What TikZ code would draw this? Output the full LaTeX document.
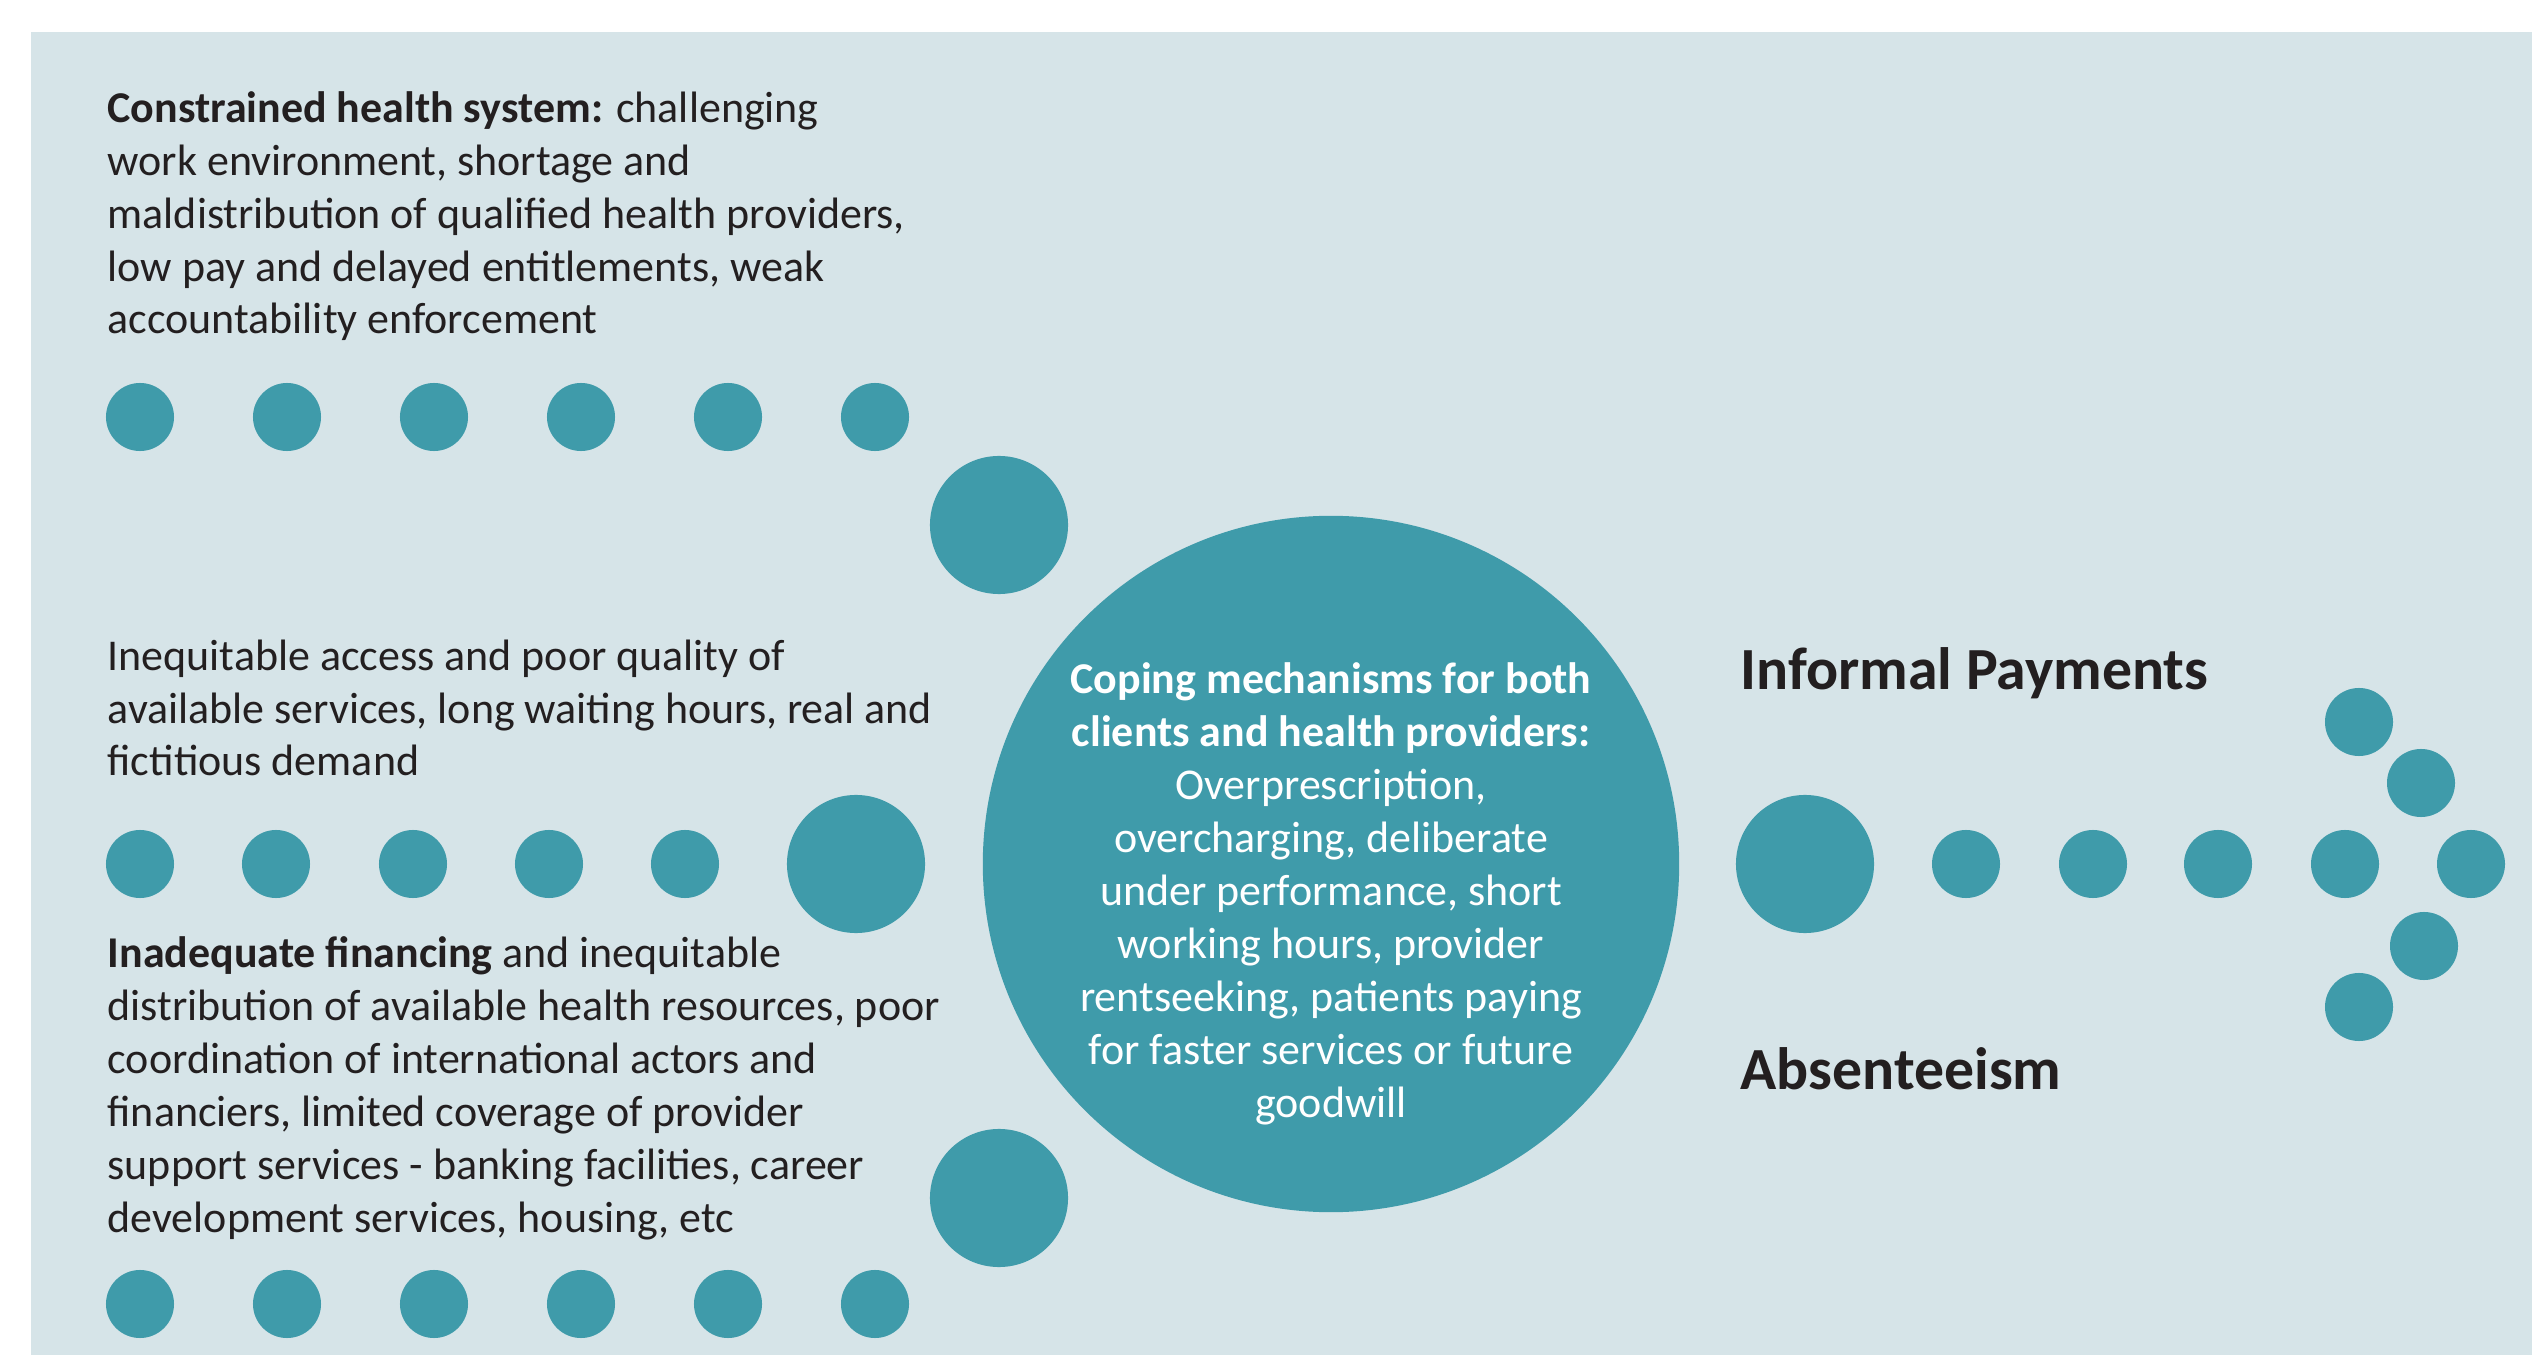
\documentclass[tikz,border=0pt]{standalone}
\usepackage{fontspec}
\setmainfont{Carlito}
\definecolor{panel}{RGB}{214,228,232}
\definecolor{dotteal}{RGB}{63,155,170}
\definecolor{ink}{RGB}{35,31,32}
\begin{document}
\begin{tikzpicture}[x=0.01cm,y=-0.01cm,
  body/.style={anchor=base west, align=left, inner sep=0, text=ink,
    font=\fontsize{12.5}{15.05}\selectfont},
  coretext/.style={anchor=base, align=center, inner sep=0, text=white,
    font=\fontsize{12.5}{15.05}\selectfont},
  outcome/.style={anchor=base west, inner sep=0, text=ink,
    font=\fontsize{17}{20}\selectfont\bfseries},
  dot/.style={circle, fill=dotteal, inner sep=0, minimum size=0.68cm},
  bigdot/.style={circle, fill=dotteal, inner sep=0, minimum size=1.38cm},
  core/.style={circle, fill=dotteal, inner sep=0, minimum size=6.96cm}]
\useasboundingbox (0,0) rectangle (2532,1355);
\fill[panel] (31,32) rectangle (2532,1355);

% three causes on the left (anchored at the baseline of their last line)
\node[body] (cause1) at (107,334) {\textbf{Constrained health system:} challenging\\
  work environment, shortage and\\
  maldistribution of qualified health providers,\\
  low pay and delayed entitlements, weak\\
  accountability enforcement};
\node[body] (cause2) at (107,776) {Inequitable access and poor quality of\\
  available services, long waiting hours, real and\\
  fictitious demand};
\node[body] (cause3) at (107,1232) {\textbf{Inadequate financing} and inequitable\\
  distribution of available health resources, poor\\
  coordination of international actors and\\
  financiers, limited coverage of provider\\
  support services - banking facilities, career\\
  development services, housing, etc};

% dotted paths leading to the centre
\foreach \i/\x in {1/140,2/287,3/434,4/581,5/728,6/875}{
  \node[dot] (ta\i) at (\x,417) {};
  \node[dot] (ba\i) at (\x,1304) {};
}
\node[bigdot] (tbig) at (999,525) {};
\node[bigdot] (bbig) at (999,1198) {};
\foreach \i/\x in {1/140,2/276,3/413,4/549,5/685}{
  \node[dot] (ma\i) at (\x,864) {};
}
\node[bigdot] (mbig) at (856,864) {};

% central circle
\node[core] (centre) at (1331,864) {};
\node[coretext] (centretext) at (1331,1117) {\textbf{Coping mechanisms for both}\\
  \textbf{clients and health providers:}\\
  Overprescription,\\
  overcharging, deliberate\\
  under performance, short\\
  working hours, provider\\
  rentseeking, patients paying\\
  for faster services or future\\
  goodwill};

% outcomes and the dotted arrow
\node[outcome] (informal) at (1740,690) {Informal Payments};
\node[outcome] (absent) at (1740,1089) {Absenteeism};
\node[bigdot] (rbig) at (1805,864) {};
\foreach \i/\x in {1/1966,2/2093,3/2218,4/2345,5/2471}{
  \node[dot] (ra\i) at (\x,864) {};
}
\node[dot] (hu2) at (2359,722) {};
\node[dot] (hu1) at (2421,783) {};
\node[dot] (hl1) at (2424,946) {};
\node[dot] (hl2) at (2359,1007) {};
\end{tikzpicture}
\end{document}
